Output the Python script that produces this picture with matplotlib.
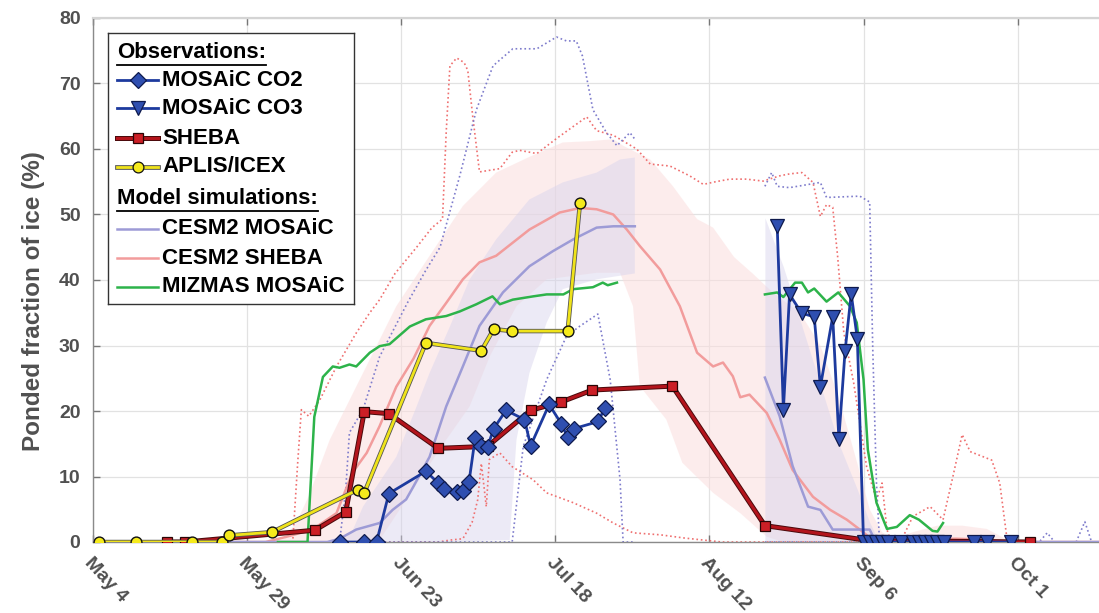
import numpy as np
import matplotlib
matplotlib.use("Agg")
import matplotlib.pyplot as plt
import matplotlib.patheffects as pe
from matplotlib import font_manager


def bold_family(candidates):
    # first family that actually ships a bold face
    for fam in candidates:
        try:
            path = font_manager.findfont(font_manager.FontProperties(family=fam, weight='bold'),
                                         fallback_to_default=False)
        except Exception:
            continue
        if 'bold' in path.lower():
            return fam
    return 'DejaVu Sans'


FAMILY = bold_family(['Liberation Sans', 'Arimo', 'Roboto', 'Open Sans', 'Noto Sans', 'Lato'])
plt.rcParams['font.family'] = [FAMILY, 'DejaVu Sans']
plt.rcParams['font.weight'] = 'bold'

# all x values are days after May 4 (day of year 124)
START = 124
tick_days = [0, 25, 50, 75, 100, 125, 150]
tick_labels = ['May 4', 'May 29', 'Jun 23', 'Jul 18', 'Aug 12', 'Sep 6', 'Oct 1']

# ---- observations ----
co2_day = [40, 44, 46, 48, 54, 56, 57, 59, 60, 61, 62, 63, 64, 65, 67, 70, 71, 74, 76, 77, 78, 82, 83]
co2_pond = [0, 0, 0, 7.4, 10.8, 9.0, 8.1, 7.7, 7.8, 9.2, 15.9, 14.6, 14.5, 17.3, 20.1, 18.7, 14.7,
            21.0, 18.0, 16.0, 17.3, 18.4, 20.5]

co3_day = [111, 112, 113, 115, 117, 118, 120, 121, 122, 123, 124,
           125, 126, 127, 128, 129, 131, 133, 134, 135, 136, 137, 138, 143, 145, 149]
co3_pond = [48.2, 20.2, 37.8, 34.9, 34.4, 23.7, 34.4, 15.8, 29.1, 37.9, 31.0,
            0, 0, 0, 0, 0, 0, 0, 0, 0, 0, 0, 0, 0, 0, 0]

sheba_day = [12, 15, 36, 41, 44, 48, 56, 64, 71, 76, 81, 94, 109, 126, 152]
sheba_pond = [0, 0, 1.8, 4.6, 19.9, 19.6, 14.3, 14.6, 20.1, 21.4, 23.2, 23.8, 2.5, 0.2, 0]

aplis_day = [1, 7, 16, 21, 22, 29, 43, 44, 54, 63, 65, 68, 77, 79]
aplis_pond = [0, 0, 0, 0, 1.0, 1.5, 8.0, 7.5, 30.4, 29.2, 32.5, 32.2, 32.2, 51.7]

# ---- model simulations (nan = no output) ----
cesm_mosaic_day = [0, 38, 40, 42.7, 46.5, 48.6, 50.8, 52, 54.6, 57.3, 60, 62.7, 66.5, 70.8, 74.6,
                   77.9, 81.7, 84.4, 87.9, 88,
                   109, 111.4, 113.5, 116, 118, 120, 126, 127, 163]
cesm_mosaic = [0, 0, 0.5, 1.9, 2.9, 4.9, 6.5, 8.5, 13.0, 20.7, 26.8, 33.0, 38.1, 42.1, 44.4,
               46.2, 48.0, 48.2, 48.2, np.nan,
               25.1, 19.2, 11.6, 5.4, 4.9, 1.9, 1.9, 0, 0]

cesm_mosaic_max_day = [0, 40, 41, 41.6, 43.8, 46.5, 51, 54, 56.3, 59.5, 62.2, 64.9, 68.1, 72, 75.2,
                       76.8, 78.4, 79.4, 81.1, 83.3, 85, 87.1, 87.9, 88,
                       109, 110.1, 111, 113, 118, 119, 124.4, 126, 126.5, 127.1, 127.6,
                       153.5, 154.8, 156, 159.5, 160.9, 162, 163]
cesm_mosaic_max = [0, 0, 8, 16.7, 20.2, 28.3, 36.5, 41.5, 45, 55.9, 66, 72.7, 75.3, 75.3, 77.1,
                   76.5, 76.5, 74.2, 66, 62.5, 60.5, 62.5, 61.5, np.nan,
                   54.3, 56.4, 54.3, 54.1, 54.9, 52.6, 52.8, 51.9, 29.4, 9, 0,
                   0, 1.4, 0, 0, 3.1, 0, 0]

cesm_mosaic_min_day = [0, 68, 69.8, 73.6, 76.8, 78.9, 81.9, 83.9, 85.5, 86, 88, 88.1, 109, 163]
cesm_mosaic_min = [0, 0, 14.6, 24.8, 31.4, 32.9, 34.8, 24.8, 9.5, 0, 0, np.nan, 0, 0]

cesm_mosaic_hi_day = [40, 42, 43.8, 49.2, 52.5, 54.6, 57.9, 61.1, 65.4, 70.8, 76.2, 81.7, 85.5, 87.9]
cesm_mosaic_hi = [0, 1.5, 5.4, 13, 20.7, 25.8, 32.9, 40.1, 46.2, 52.3, 54.9, 56.4, 58.4, 58.7]
cesm_mosaic_lo_day = [40, 57, 67.6, 68.7, 70.8, 73.6, 76.2, 81.7, 87.9]
cesm_mosaic_lo = [0, 0, 0.3, 15.6, 25.8, 33.5, 38.6, 40.1, 41]
cesm_mosaic_hi2_day = [109, 112, 115, 118, 121, 124, 126, 127.5]
cesm_mosaic_hi2 = [49.5, 42, 33, 24, 15, 8, 3, 0]

cesm_sheba_day = [0, 28, 31.4, 35.6, 39.5, 42.1, 44.4, 46.5, 49.2, 52, 54.6, 57.3, 60, 62.7, 65.4,
                  70.8, 75.7, 79, 81.7, 84.4, 86.6, 88.7, 92, 95.2, 98, 100.6, 102.2, 103.8,
                  105, 106.5, 109.3, 111.4, 113.5, 116.8, 119.6, 122.3, 124.4, 126.5, 130,
                  133, 140, 146, 149, 163]
cesm_sheba = [0, 0, 0.8, 1.9, 4.4, 10.6, 13.6, 17.7, 23.7, 28.0, 33.0, 36.5, 40.1, 42.7, 43.7,
              47.7, 50.3, 51.0, 50.8, 50.0, 47.7, 45.2, 41.6, 36.0, 28.9, 26.8, 27.4, 25.3,
              22.1, 22.5, 19.7, 15.6, 11.0, 6.9, 4.9, 3.4, 1.9, 0.3, 0,
              0.3, 0.5, 0.3, 0, 0]

cesm_sheba_max_day = [0, 32.4, 33.2, 33.8, 35, 36.8, 39.5, 42.7, 44.9, 46.5, 49, 52.5, 55, 56.7,
                      57.3, 57.9, 59, 60.2, 60.8, 61.6, 62.7, 66, 68, 69.2, 72, 75.2, 78, 80.1,
                      81.7, 84.4, 88.2, 90.4, 93.6, 96.8, 99, 101, 103.3, 106, 108.7, 111.4,
                      113, 115, 116.8, 118, 119, 120, 120.8, 121.8, 123.4, 125.5, 127.1, 128,
                      128.8, 129.5, 131, 133, 135.8, 137.9, 139.5, 141, 142.3, 145.8, 147.1,
                      148.3, 149, 163]
cesm_sheba_max = [0, 0, 12, 20.2, 19.2, 21.7, 26.8, 31.9, 35, 37, 41, 45, 48, 49.3,
                  62.6, 72.7, 73.9, 73.2, 72, 65, 56.5, 57, 59.5, 59.8, 59.3, 61.6, 63.5, 64.9,
                  62.8, 62.1, 60, 57.7, 57.4, 55.9, 54.6, 55, 55.4, 55.4, 55.1, 55.9,
                  56.2, 56.4, 54.9, 49.7, 51.5, 51.1, 43.6, 32, 24.3, 11.5, 6.4, 9,
                  1.9, 0, 0, 3.9, 5.4, 3.4, 10, 16.4, 13.8, 12.5, 9,
                  0.3, 0, 0]

cesm_sheba_min_day = [0, 56, 58, 60, 61.5, 62.4, 63, 63.8, 64.3, 66, 68, 71.4, 73.6, 77.9, 81.7,
                      84.4, 87.6, 92, 96, 100, 102, 163]
cesm_sheba_min = [0, 0, 0.3, 0.5, 3, 6.4, 12, 5.4, 12.6, 13.6, 11.5, 9.5, 7.5, 6, 4.4,
                  2.9, 1.4, 1.1, 0.6, 0.2, 0, 0]

cesm_sheba_hi_day = [28, 31, 33, 35, 38.4, 43.8, 49.2, 54.6, 60, 65.4, 70.8, 76.2, 80.6, 84.4,
                     86, 90.4, 94.1, 98, 100.6, 104, 107, 110.4, 114.7, 118, 121, 124, 126,
                     128, 130, 133, 137, 141, 145, 148, 150]
cesm_sheba_hi = [0, 0.5, 3, 7, 15.6, 25.8, 36, 43.7, 51.3, 56.4, 58.8, 61, 61.2, 61.5,
                 60.5, 58.4, 54.3, 49.3, 48, 43.5, 41, 38, 35, 30, 22, 12, 5,
                 1.5, 0.5, 1.5, 2.5, 2.5, 2, 0.5, 0]
cesm_sheba_lo_day = [28, 46.5, 51.9, 57.3, 61.1, 64.4, 68.7, 73.6, 81.7, 85.5, 87.6, 88.7, 93,
                     95.6, 100.6, 105, 109.3, 112, 150]
cesm_sheba_lo = [0, 0.3, 8, 15.6, 20.7, 28.4, 36, 40.1, 41.1, 41.1, 36, 23.8, 18.7,
                 12.1, 7.5, 4.4, 0.8, 0, 0]

mizmas_day = [30, 34.8, 35.9, 37.3, 38.9, 40, 41.6, 42.7, 44.9, 46.5, 48.1, 51.4, 54, 57.3, 59.5,
              62.2, 64.8, 66, 68.1, 71.4, 73.6, 76.3, 77.9, 81.1, 82.7, 83.5, 85, 85.1,
              109, 111, 112, 113.9, 115, 116, 117, 119, 120.9, 122.8, 123.9, 125, 125.7,
              127.1, 128.8, 130.4, 132.5, 134, 136.2, 137, 137.9]
mizmas = [0, 0, 19.1, 25.2, 26.8, 26.6, 27.1, 26.8, 28.9, 29.9, 30.2, 32.9, 34, 34.5, 35.2,
          36.3, 37.5, 36.3, 37, 37.5, 37.8, 37.8, 38.6, 38.9, 39.6, 39.2, 39.6, np.nan,
          37.8, 38.1, 37.4, 39.6, 39.6, 38.1, 38.7, 36.7, 38.1, 36, 33.5, 24.8, 14.1,
          6, 2, 2.3, 4.1, 3.4, 1.7, 1.6, 2.9]


def days(d):
    return START + np.asarray(d, dtype=float)


C_BLUE, C_BLUE_FACE, C_BLUE_EDGE = '#1d3a9e', '#2f4fb0', '#0e1a4d'
C_RED, C_RED_FACE = '#b3141c', '#cc1f26'
C_YEL, C_YEL_FACE = '#efe31a', '#f5ea1c'
C_GREEN = '#2db34a'
C_CM, C_CS = '#9d9bd6', '#f29c9c'
C_CM_DOT, C_CS_DOT = '#7e7ccc', '#ef7070'
TXT = '#505050'

W, H = 1099, 613
fig = plt.figure(figsize=(W / 100, H / 100), dpi=100)
ax = fig.add_axes([93 / W, (H - 542) / H, (W - 93) / W, (542 - 18) / H])

# spread of the CESM2 ensembles
ax.fill(np.concatenate([days(cesm_sheba_hi_day), days(cesm_sheba_lo_day)[::-1]]),
        np.concatenate([cesm_sheba_hi, cesm_sheba_lo[::-1]]),
        color='#fbdede', alpha=0.55, lw=0, zorder=1)
ax.fill(np.concatenate([days(cesm_mosaic_hi_day), days(cesm_mosaic_lo_day)[::-1]]),
        np.concatenate([cesm_mosaic_hi, cesm_mosaic_lo[::-1]]),
        color='#d6d2ec', alpha=0.45, lw=0, zorder=1)
ax.fill_between(days(cesm_mosaic_hi2_day), 0, cesm_mosaic_hi2,
                color='#d6d2ec', alpha=0.45, lw=0, zorder=1)

# ensemble min / max
ax.plot(days(cesm_sheba_max_day), cesm_sheba_max, ':', color=C_CS_DOT, lw=1.2, zorder=2)
ax.plot(days(cesm_sheba_min_day), cesm_sheba_min, ':', color=C_CS_DOT, lw=1.2, zorder=2)
ax.plot(days(cesm_mosaic_max_day), cesm_mosaic_max, ':', color=C_CM_DOT, lw=1.2, zorder=2)
ax.plot(days(cesm_mosaic_min_day), cesm_mosaic_min, ':', color=C_CM_DOT, lw=1.2, zorder=2)

# ensemble means
ax.plot(days(cesm_sheba_day), cesm_sheba, '-', color=C_CS, lw=1.8, zorder=3)
ax.plot(days(cesm_mosaic_day), cesm_mosaic, '-', color=C_CM, lw=1.8, zorder=3)
ax.plot(days(mizmas_day), mizmas, '-', color=C_GREEN, lw=1.8, zorder=4)

# observations
ax.plot(days(sheba_day), sheba_pond, '-', color=C_RED, lw=2.2, zorder=5,
        path_effects=[pe.Stroke(linewidth=3.6, foreground='#4a0a0c'), pe.Normal()])
ax.plot(days(sheba_day), sheba_pond, 's', ms=7.5, mfc=C_RED_FACE, mec='#2a0505', mew=0.9, zorder=5)

ax.plot(days(aplis_day), aplis_pond, '-', color=C_YEL, lw=2.0, zorder=6,
        path_effects=[pe.Stroke(linewidth=3.2, foreground='#555555'), pe.Normal()])
ax.plot(days(aplis_day), aplis_pond, 'o', ms=7.8, mfc=C_YEL_FACE, mec='#111111', mew=1.0, zorder=6)

ax.plot(days(co2_day), co2_pond, '-D', color=C_BLUE, lw=2.0, ms=7.8, mfc=C_BLUE_FACE,
        mec=C_BLUE_EDGE, mew=0.9, zorder=7)
ax.plot(days(co3_day), co3_pond, '-v', color=C_BLUE, lw=2.0, ms=9.5, mfc=C_BLUE_FACE,
        mec=C_BLUE_EDGE, mew=0.9, zorder=7)

# axes styling
ax.set_xlim(START, START + 163.2)
ax.set_ylim(0, 80)
ax.set_yticks(np.arange(0, 81, 10))
ax.set_xticks(days(tick_days))
ax.set_xticklabels(tick_labels, rotation=-47, ha='left', va='top', rotation_mode='anchor')
ax.grid(True, color='#e2e2e2', lw=0.9, zorder=0)
ax.set_axisbelow(True)
ax.tick_params(direction='in', length=5, width=1, top=True, right=False,
               color='#777777', labelcolor=TXT, labelsize=14)
ax.tick_params(axis='x', pad=9)
ax.tick_params(axis='y', pad=9)
for lbl in ax.get_xticklabels() + ax.get_yticklabels():
    lbl.set_fontweight('bold')
ax.spines['right'].set_visible(False)
ax.spines['top'].set_color('#d4d4d4')
ax.spines['top'].set_linewidth(1.6)
for side in ('left', 'bottom'):
    ax.spines[side].set_color('#8a8a8a')
    ax.spines[side].set_linewidth(1.0)
ax.set_ylabel('Ponded fraction of ice (%)', fontsize=17.5, fontweight='bold', color=TXT)
ax.yaxis.set_label_coords(-0.048, 0.46)

# legend box, drawn in pixel units
leg = fig.add_axes([108 / W, (H - 304) / H, 246 / W, 271 / H])
leg.set_xlim(108, 354)
leg.set_ylim(304, 33)
leg.set_xticks([])
leg.set_yticks([])
leg.set_facecolor('white')
for s in leg.spines.values():
    s.set_color('#333333')
    s.set_linewidth(1.0)

LEG_FS = 16
headers = [('Observations:', 53), ('Model simulations:', 199)]
entries = [
    ('MOSAiC CO2', 80, dict(color=C_BLUE, lw=2.0, marker='D', ms=7.8, mfc=C_BLUE_FACE, mec=C_BLUE_EDGE), None),
    ('MOSAiC CO3', 108, dict(color=C_BLUE, lw=2.0, marker='v', ms=9.5, mfc=C_BLUE_FACE, mec=C_BLUE_EDGE), None),
    ('SHEBA', 138, dict(color=C_RED, lw=2.2, marker='s', ms=7.5, mfc=C_RED_FACE, mec='#2a0505'), '#4a0a0c'),
    ('APLIS/ICEX', 167, dict(color=C_YEL, lw=2.0, marker='o', ms=7.8, mfc=C_YEL_FACE, mec='#111111'), '#555555'),
    ('CESM2 MOSAiC', 229, dict(color=C_CM, lw=1.8), None),
    ('CESM2 SHEBA', 258, dict(color=C_CS, lw=1.8), None),
    ('MIZMAS MOSAiC', 287, dict(color=C_GREEN, lw=1.8), None),
]
for label, y, style, outline in entries:
    marker_style = {k: style.pop(k) for k in ('marker', 'ms', 'mfc', 'mec') if k in style}
    effects = [pe.Stroke(linewidth=style['lw'] + 1.4, foreground=outline), pe.Normal()] if outline else None
    leg.plot([117, 158], [y, y], '-', path_effects=effects, **style)
    if marker_style:
        leg.plot([137.5], [y], linestyle='none', mew=0.9, **marker_style)
    leg.text(162, y, label, fontsize=LEG_FS, fontweight='bold', color='black', va='center', ha='left')

header_texts = [leg.text(117, y, t, fontsize=LEG_FS, fontweight='bold', color='black',
                         va='center', ha='left')
                for t, y in headers]
fig.canvas.draw()
renderer = fig.canvas.get_renderer()
inv = leg.transData.inverted()
for t in header_texts:
    bb = t.get_window_extent(renderer)
    (x0, y0), (x1, _) = inv.transform([[bb.x0, bb.y0], [bb.x1, bb.y1]])
    leg.plot([x0, x1], [y0 + 1.5, y0 + 1.5], color='black', lw=1.3)

fig.savefig('out.png', dpi=100)
